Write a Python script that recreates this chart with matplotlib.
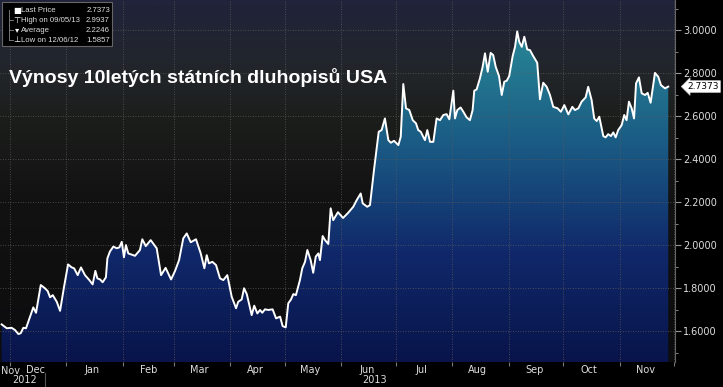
import numpy as np
import matplotlib
matplotlib.use("Agg")
import matplotlib.pyplot as plt
import matplotlib.dates as mdates
import matplotlib.transforms as mtransforms
from matplotlib.colors import LinearSegmentedColormap
from matplotlib.patches import Rectangle

# dny od 1. 12. 2012 a vynos (%)
days = [-4.6, -1.8, 0.9, 2.7, 4.6, 5.9, 7.3, 8.8, 11.0, 12.8, 14.3, 16.9, 19.2, 20.7, 22.0, 23.5,
        25.7, 27.5, 29.7, 31.9, 33.9, 35.2, 37.2, 39.0, 41.2, 43.6, 45.4, 46.9, 48.0, 49.5, 50.9,
        52.7, 53.5, 54.9, 56.8, 58.6, 60.1, 61.4, 62.6, 63.7, 65.0, 68.7, 71.4, 72.7, 74.6, 77.3,
        80.6, 83.0, 85.5, 88.5, 90.7, 92.9, 95.2, 97.1, 99.3, 102.2, 104.8, 106.8, 108.1, 109.3,
        111.2, 113.2, 115.4, 117.2, 119.4, 121.8, 124.2, 125.4, 127.3, 128.6, 130.1, 132.8, 134.2,
        135.9, 137.4, 138.6, 140.1, 141.9, 144.3, 146.2, 148.4, 149.8, 151.5, 152.9, 154.4, 155.7,
        157.1, 159.3, 160.6, 162.1, 163.4, 165.2, 166.6, 168.0, 169.4, 170.3, 171.8, 173.1, 174.9,
        176.2, 177.6, 180.2, 183.0, 185.7, 188.6, 190.5, 192.7, 193.8, 196.3, 197.8, 200.0, 202.6,
        204.2, 206.0, 207.9, 209.3, 211.0, 213.4, 214.7, 216.1, 217.6, 219.4, 221.3, 223.1, 224.3,
        225.7, 228.0, 229.3, 230.8, 232.6, 234.4, 236.3, 238.1, 239.9, 241.4, 243.6, 244.5, 245.8,
        247.6, 249.1, 250.9, 252.7, 254.2, 255.1, 256.4, 258.2, 259.7, 261.0, 262.5, 264.1, 265.5,
        266.9, 268.7, 270.2, 271.6, 272.9, 274.3, 276.2, 277.5, 278.7, 279.8, 281.2, 282.6, 284.2,
        285.7, 287.5, 289.7, 291.2, 293.0, 294.9, 296.7, 298.5, 300.9, 302.7, 304.6, 306.8, 309.0,
        310.4, 312.3, 314.1, 316.3, 317.7, 319.6, 321.0, 322.4, 323.8, 326.0, 327.3, 328.7, 330.2,
        331.5, 332.8, 334.2, 336.1, 337.5, 338.8, 340.1, 341.6, 342.9, 344.0, 345.6, 347.1, 348.9,
        350.4, 352.0, 354.4, 356.2, 357.7, 359.9, 361.7]
yields = [1.631, 1.613, 1.615, 1.605, 1.586, 1.590, 1.615, 1.613, 1.667, 1.710, 1.685, 1.814, 1.799,
          1.786, 1.757, 1.767, 1.736, 1.694, 1.806, 1.910, 1.896, 1.892, 1.860, 1.896, 1.860, 1.837,
          1.817, 1.880, 1.845, 1.840, 1.827, 1.850, 1.938, 1.970, 1.993, 1.985, 1.989, 2.015, 1.943,
          2.000, 1.961, 1.950, 1.977, 2.027, 1.995, 2.023, 1.985, 1.860, 1.894, 1.840, 1.880, 1.930,
          2.031, 2.054, 2.013, 2.027, 1.961, 1.892, 1.953, 1.915, 1.922, 1.907, 1.845, 1.837, 1.860,
          1.760, 1.706, 1.736, 1.747, 1.799, 1.772, 1.674, 1.718, 1.682, 1.698, 1.685, 1.701, 1.698,
          1.701, 1.659, 1.667, 1.623, 1.617, 1.729, 1.747, 1.772, 1.767, 1.837, 1.892, 1.922, 1.977,
          1.930, 1.871, 1.946, 1.961, 1.930, 2.042, 2.023, 2.005, 2.171, 2.116, 2.153, 2.126, 2.149,
          2.178, 2.209, 2.240, 2.194, 2.178, 2.186, 2.349, 2.527, 2.535, 2.589, 2.488, 2.476, 2.485,
          2.465, 2.504, 2.749, 2.636, 2.628, 2.581, 2.566, 2.535, 2.527, 2.488, 2.535, 2.480, 2.480,
          2.589, 2.581, 2.605, 2.609, 2.585, 2.718, 2.589, 2.628, 2.640, 2.620, 2.594, 2.581, 2.628,
          2.718, 2.724, 2.775, 2.829, 2.892, 2.806, 2.894, 2.884, 2.829, 2.786, 2.698, 2.760, 2.764,
          2.786, 2.879, 2.922, 2.994, 2.946, 2.922, 2.969, 2.910, 2.907, 2.879, 2.848, 2.678, 2.755,
          2.736, 2.698, 2.643, 2.636, 2.620, 2.651, 2.608, 2.643, 2.628, 2.636, 2.667, 2.687, 2.736,
          2.674, 2.589, 2.577, 2.597, 2.507, 2.501, 2.516, 2.507, 2.524, 2.501, 2.535, 2.558, 2.605,
          2.581, 2.667, 2.636, 2.589, 2.752, 2.780, 2.706, 2.698, 2.708, 2.662, 2.801, 2.783, 2.744,
          2.729, 2.737]

month_labels = ['Dec', 'Jan', 'Feb', 'Mar', 'Apr', 'May', 'Jun', 'Jul', 'Aug', 'Sep', 'Oct', 'Nov']
y_ticks = [1.6, 1.8, 2.0, 2.2, 2.4, 2.6, 2.8, 3.0]

title = "Výnosy 10letých státních dluhopisů USA"
legend_rows = [("Last Price", "2.7373"), ("High on 09/05/13", "2.9937"),
               ("Average", "2.2246"), ("Low on 12/06/12", "1.5857")]
last_price = 2.7373

base = mdates.date2num(np.datetime64('2012-12-01'))
x = base + np.array(days)
y = np.array(yields)
x0, x1 = base - 5.5, base + 365.4
y0, y1 = 1.456, 3.14

fig = plt.figure(figsize=(7.23, 3.87), dpi=100, facecolor='black')
ax = fig.add_axes([0, 0.0646, 0.9336, 0.9354])
ax.set_facecolor('#0e0e0e')

# pozadi
bg_cmap = LinearSegmentedColormap.from_list('bg', [
    (0.0, '#0c0c0e'), (0.45, '#121212'), (0.68, '#1c1e1c'), (0.80, '#22262a'), (1.0, '#20233a')])
ax.imshow(np.linspace(0, 1, 256).reshape(-1, 1), cmap=bg_cmap, aspect='auto', origin='lower',
          extent=[0, 1, 0, 1], transform=ax.transAxes, zorder=0)

# vypln pod krivkou
fill_cmap = LinearSegmentedColormap.from_list('fill', [
    (0.0, '#08144a'), (0.3, '#10286a'), (0.6, '#1a5a84'), (0.85, '#257e92'), (1.0, '#2e8e9c')])
poly = ax.fill_between(x, y, y0, color='none', lw=0)
im = ax.imshow(np.linspace(0, 1, 256).reshape(-1, 1), cmap=fill_cmap, aspect='auto',
               origin='lower', extent=[x0, x1, y0, y1], zorder=1)
im.set_clip_path(poly.get_paths()[0], transform=ax.transData)

ax.plot(x, y, color='white', lw=1.4, zorder=3)

ax.set_xlim(x0, x1)
ax.set_ylim(y0, y1)

# mrizka
for v in y_ticks:
    ax.axhline(v, color='#5a5a5a', lw=0.6, ls=(0, (1, 2)), zorder=2)
ax.xaxis.set_major_locator(mdates.MonthLocator())
ax.xaxis.set_major_formatter(plt.NullFormatter())
ax.xaxis.set_minor_locator(mdates.MonthLocator(bymonthday=15))
ax.xaxis.set_minor_formatter(mdates.DateFormatter('%b'))
for t in ax.xaxis.get_majorticklocs():
    ax.axvline(t, color='#5a5a5a', lw=0.6, ls=(0, (1, 2)), zorder=2)
ax.tick_params(axis='x', which='major', length=3, color='#777777', direction='out')
ax.tick_params(axis='x', which='minor', length=0, pad=2, labelsize=7, labelcolor='#dddddd')
ax.text(x0 + 0.6, -0.012, 'Nov', transform=mtransforms.blended_transform_factory(ax.transData, ax.transAxes),
        ha='left', va='top', fontsize=7, color='#dddddd')

trans = mtransforms.blended_transform_factory(ax.transData, fig.transFigure)
fig.text(base + 8, 0.005, '2012', transform=trans, ha='center', va='bottom', fontsize=7, color='#dddddd')
fig.text(base + 200.5, 0.005, '2013', transform=trans, ha='center', va='bottom', fontsize=7, color='#dddddd')
fig.add_artist(plt.Line2D([base + 19.3, base + 19.3], [0.0, 0.035], transform=trans, color='#555555', lw=0.8))

# osa y vpravo
ax.yaxis.tick_right()
ax.set_yticks(y_ticks)
ax.set_yticklabels(['%.4f' % v for v in y_ticks])
ax.set_yticks(np.arange(1.5, 3.15, 0.1), minor=True)
ax.tick_params(axis='y', which='major', length=4, color='#999999', pad=2, labelsize=7, labelcolor='#dddddd')
ax.tick_params(axis='y', which='minor', length=2, color='#999999')
for s in ['top', 'left', 'bottom']:
    ax.spines[s].set_visible(False)
ax.spines['right'].set_color('#666666')
ax.spines['right'].set_linewidth(0.8)

ax.annotate('%.4f' % last_price, xy=(1.0, last_price), xycoords=('axes fraction', 'data'),
            xytext=(9, 0), textcoords='offset points', ha='left', va='center', fontsize=6.5,
            color='black', bbox=dict(boxstyle='larrow,pad=0.15', fc='white', ec='#cccccc', lw=0.5),
            zorder=5)

# titulek
ax.text(0.014, 0.785, title, transform=ax.transAxes, fontsize=14, fontweight='bold',
        color='white', family='Liberation Sans', ha='left', va='center', zorder=6)

# legenda
leg_font = ['Liberation Sans Narrow', 'Liberation Sans', 'DejaVu Sans']
fig.add_artist(Rectangle((2 / 723, 1 - 46 / 387), 110 / 723, 44 / 387, transform=fig.transFigure,
                         fc='black', ec='#666666', lw=0.8, zorder=7))
icons = ['■', '⊤', '▾', '⊥']
for i, (name, val) in enumerate(legend_rows):
    yy = 1 - (10 + 10 * i) / 387
    fig.text(17 / 723, yy, icons[i], fontsize=6, color='white', ha='center', va='center', zorder=8)
    fig.text(21 / 723, yy, name, fontsize=5.6, color='#dddddd', ha='left', va='center',
             family=leg_font, zorder=8)
    fig.text(110 / 723, yy, val, fontsize=5.6, color='#dddddd', ha='right', va='center',
             family=leg_font, zorder=8)
fig.add_artist(plt.Line2D([9 / 723, 9 / 723], [1 - 10 / 387, 1 - 40 / 387], transform=fig.transFigure,
                          color='#888888', lw=0.6, zorder=8))
for i in range(1, 4):
    yy = 1 - (10 + 10 * i) / 387
    fig.add_artist(plt.Line2D([9 / 723, 13 / 723], [yy, yy], transform=fig.transFigure,
                              color='#888888', lw=0.6, zorder=8))

fig.savefig('out.png', dpi=100, facecolor='black')
